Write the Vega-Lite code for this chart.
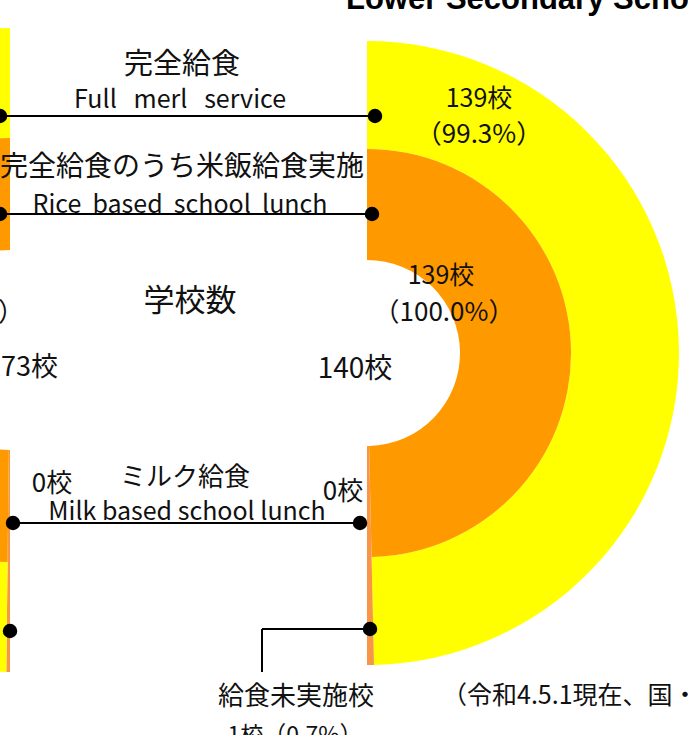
{
  "$schema": "https://vega.github.io/schema/vega-lite/v6.json",
  "width": 688,
  "height": 735,
  "autosize": "none",
  "padding": 0,
  "background": "white",
  "config": {
    "view": {"stroke": null},
    "axis": {"disable": true},
    "text": {"font": "Noto Sans CJK JP", "color": "#111111", "baseline": "middle", "align": "center"}
  },
  "datasets": {
    "rings": [
      {"school": "中学校", "ring": "outer", "category": "完全給食", "count": 139, "order": 1},
      {"school": "中学校", "ring": "outer", "category": "給食未実施", "count": 1, "order": 2},
      {"school": "中学校", "ring": "inner", "category": "米飯給食", "count": 139, "order": 1},
      {"school": "中学校", "ring": "inner", "category": "給食未実施", "count": 1, "order": 2},
      {"school": "小学校", "ring": "outer", "category": "給食未実施", "count": 1, "order": 1},
      {"school": "小学校", "ring": "outer", "category": "完全給食", "count": 272, "order": 2},
      {"school": "小学校", "ring": "inner", "category": "給食未実施", "count": 1, "order": 1},
      {"school": "小学校", "ring": "inner", "category": "米飯給食", "count": 272, "order": 2}
    ],
    "labels": [
      {"id": "title", "text": "Lower Secondary School"},
      {"id": "full_jp", "text": "完全給食"},
      {"id": "full_en", "text": "Full\u00a0\u00a0\u00a0merl\u00a0\u00a0\u00a0service"},
      {"id": "rice_jp", "text": "完全給食のうち米飯給食実施"},
      {"id": "rice_en", "text": "Rice\u00a0\u00a0based\u00a0\u00a0school\u00a0\u00a0lunch"},
      {"id": "count_jp", "text": "学校数"},
      {"id": "left_pct", "text": "（100.0%）"},
      {"id": "left_total", "text": "273校"},
      {"id": "inner_n", "text": "139校"},
      {"id": "inner_pct", "text": "（100.0%）"},
      {"id": "total", "text": "140校"},
      {"id": "outer_n", "text": "139校"},
      {"id": "outer_pct", "text": "（99.3%）"},
      {"id": "milk_jp", "text": "ミルク給食"},
      {"id": "milk_left", "text": "0校"},
      {"id": "milk_right", "text": "0校"},
      {"id": "milk_en", "text": "Milk based school lunch"},
      {"id": "none_jp", "text": "給食未実施校"},
      {"id": "none_n", "text": "1校（0.7%）"},
      {"id": "note", "text": "（令和4.5.1現在、国・公・私立）"}
    ],
    "leaders": [
      {"leader": "完全給食"},
      {"leader": "米飯給食"},
      {"leader": "ミルク給食"},
      {"leader": "給食未実施"}
    ]
  },
  "resolve": {"scale": {"theta": "independent"}},
  "layer": [
    {
      "data": {"name": "rings"},
      "transform": [
        {"filter": "datum.school === '中学校' && datum.ring === 'outer'"},
        {"stack": "count", "groupby": ["school", "ring"], "sort": [{"field": "order", "order": "ascending"}], "as": ["t0", "t1"]}
      ],
      "mark": {"type": "arc", "radius": 312, "radius2": 204, "clip": true},
      "encoding": {
        "x": {"datum": 367, "type": "quantitative", "scale": {"domain": [0, 688], "nice": false, "zero": false}, "axis": null},
        "y": {"datum": 353, "type": "quantitative", "scale": {"domain": [0, 735], "nice": false, "zero": false, "reverse": true}, "axis": null},
        "theta": {"field": "t0", "type": "quantitative", "scale": {"domain": [0, 140], "range": [0, 3.14159265]}},
        "theta2": {"field": "t1"},
        "color": {"field": "category", "type": "nominal", "legend": null, "scale": {"domain": ["完全給食", "米飯給食", "給食未実施"], "range": ["#FFFF00", "#FF9900", "#F79646"]}}
      }
    },
    {
      "data": {"name": "rings"},
      "transform": [
        {"filter": "datum.school === '中学校' && datum.ring === 'inner'"},
        {"stack": "count", "groupby": ["school", "ring"], "sort": [{"field": "order", "order": "ascending"}], "as": ["t0", "t1"]}
      ],
      "mark": {"type": "arc", "radius": 204, "radius2": 93, "clip": true},
      "encoding": {
        "x": {"datum": 367, "type": "quantitative"},
        "y": {"datum": 353, "type": "quantitative"},
        "theta": {"field": "t0", "type": "quantitative", "scale": {"domain": [0, 140], "range": [0, 3.14159265]}},
        "theta2": {"field": "t1"},
        "color": {"field": "category", "type": "nominal", "legend": null}
      }
    },
    {
      "data": {"name": "rings"},
      "transform": [
        {"filter": "datum.school === '小学校' && datum.ring === 'outer'"},
        {"stack": "count", "groupby": ["school", "ring"], "sort": [{"field": "order", "order": "ascending"}], "as": ["t0", "t1"]}
      ],
      "mark": {"type": "arc", "radius": 322, "radius2": 212, "clip": true},
      "encoding": {
        "x": {"datum": 10, "type": "quantitative"},
        "y": {"datum": 350, "type": "quantitative"},
        "theta": {"field": "t0", "type": "quantitative", "scale": {"domain": [0, 273], "range": [3.14159265, 6.2831853]}},
        "theta2": {"field": "t1"},
        "color": {"field": "category", "type": "nominal", "legend": null}
      }
    },
    {
      "data": {"name": "rings"},
      "transform": [
        {"filter": "datum.school === '小学校' && datum.ring === 'inner'"},
        {"stack": "count", "groupby": ["school", "ring"], "sort": [{"field": "order", "order": "ascending"}], "as": ["t0", "t1"]}
      ],
      "mark": {"type": "arc", "radius": 212, "radius2": 100, "clip": true},
      "encoding": {
        "x": {"datum": 10, "type": "quantitative"},
        "y": {"datum": 350, "type": "quantitative"},
        "theta": {"field": "t0", "type": "quantitative", "scale": {"domain": [0, 273], "range": [3.14159265, 6.2831853]}},
        "theta2": {"field": "t1"},
        "color": {"field": "category", "type": "nominal", "legend": null}
      }
    },
    {
      "data": {"name": "leaders"},
      "transform": [{"filter": "datum.leader === '完全給食'"}],
      "mark": {"type": "rule", "color": "#000000", "strokeWidth": 2, "clip": true},
      "encoding": {"x": {"datum": -20, "type": "quantitative"}, "x2": {"datum": 375}, "y": {"datum": 116, "type": "quantitative"}}
    },
    {
      "data": {"name": "leaders"},
      "transform": [{"filter": "datum.leader === '米飯給食'"}],
      "mark": {"type": "rule", "color": "#000000", "strokeWidth": 2, "clip": true},
      "encoding": {"x": {"datum": -20, "type": "quantitative"}, "x2": {"datum": 372}, "y": {"datum": 214, "type": "quantitative"}}
    },
    {
      "data": {"name": "leaders"},
      "transform": [{"filter": "datum.leader === 'ミルク給食'"}],
      "mark": {"type": "rule", "color": "#000000", "strokeWidth": 2, "clip": true},
      "encoding": {"x": {"datum": 13, "type": "quantitative"}, "x2": {"datum": 360}, "y": {"datum": 523, "type": "quantitative"}}
    },
    {
      "data": {"name": "leaders"},
      "transform": [{"filter": "datum.leader === '給食未実施'"}],
      "mark": {"type": "rule", "color": "#000000", "strokeWidth": 2, "clip": true},
      "encoding": {"x": {"datum": 262, "type": "quantitative"}, "x2": {"datum": 370}, "y": {"datum": 629, "type": "quantitative"}}
    },
    {
      "data": {"name": "leaders"},
      "transform": [{"filter": "datum.leader === '給食未実施'"}],
      "mark": {"type": "rule", "color": "#000000", "strokeWidth": 2, "clip": true},
      "encoding": {"x": {"datum": 262, "type": "quantitative"}, "y": {"datum": 629, "type": "quantitative"}, "y2": {"datum": 672}}
    },
    {
      "data": {"name": "leaders"},
      "transform": [{"filter": "datum.leader === '完全給食'"}],
      "mark": {"type": "point", "filled": true, "color": "#000000", "opacity": 1, "size": 210, "clip": true},
      "encoding": {"x": {"datum": 375, "type": "quantitative"}, "y": {"datum": 116, "type": "quantitative"}}
    },
    {
      "data": {"name": "leaders"},
      "transform": [{"filter": "datum.leader === '完全給食'"}],
      "mark": {"type": "point", "filled": true, "color": "#000000", "opacity": 1, "size": 210, "clip": true},
      "encoding": {"x": {"datum": 0, "type": "quantitative"}, "y": {"datum": 116, "type": "quantitative"}}
    },
    {
      "data": {"name": "leaders"},
      "transform": [{"filter": "datum.leader === '米飯給食'"}],
      "mark": {"type": "point", "filled": true, "color": "#000000", "opacity": 1, "size": 210, "clip": true},
      "encoding": {"x": {"datum": 372, "type": "quantitative"}, "y": {"datum": 214, "type": "quantitative"}}
    },
    {
      "data": {"name": "leaders"},
      "transform": [{"filter": "datum.leader === '米飯給食'"}],
      "mark": {"type": "point", "filled": true, "color": "#000000", "opacity": 1, "size": 210, "clip": true},
      "encoding": {"x": {"datum": 0, "type": "quantitative"}, "y": {"datum": 214, "type": "quantitative"}}
    },
    {
      "data": {"name": "leaders"},
      "transform": [{"filter": "datum.leader === 'ミルク給食'"}],
      "mark": {"type": "point", "filled": true, "color": "#000000", "opacity": 1, "size": 210, "clip": true},
      "encoding": {"x": {"datum": 13, "type": "quantitative"}, "y": {"datum": 523, "type": "quantitative"}}
    },
    {
      "data": {"name": "leaders"},
      "transform": [{"filter": "datum.leader === 'ミルク給食'"}],
      "mark": {"type": "point", "filled": true, "color": "#000000", "opacity": 1, "size": 210, "clip": true},
      "encoding": {"x": {"datum": 360, "type": "quantitative"}, "y": {"datum": 523, "type": "quantitative"}}
    },
    {
      "data": {"name": "leaders"},
      "transform": [{"filter": "datum.leader === '給食未実施'"}],
      "mark": {"type": "point", "filled": true, "color": "#000000", "opacity": 1, "size": 210, "clip": true},
      "encoding": {"x": {"datum": 370, "type": "quantitative"}, "y": {"datum": 629, "type": "quantitative"}}
    },
    {
      "data": {"name": "leaders"},
      "transform": [{"filter": "datum.leader === '給食未実施'"}],
      "mark": {"type": "point", "filled": true, "color": "#000000", "opacity": 1, "size": 210, "clip": true},
      "encoding": {"x": {"datum": 10, "type": "quantitative"}, "y": {"datum": 631, "type": "quantitative"}}
    },
    {
      "data": {"name": "labels"},
      "transform": [{"filter": "datum.id === 'title'"}],
      "mark": {"type": "text", "font": "Liberation Sans", "fontWeight": "bold", "fontSize": 31, "align": "left", "baseline": "alphabetic", "color": "#000000", "clip": true},
      "encoding": {"x": {"datum": 346, "type": "quantitative"}, "y": {"datum": 9, "type": "quantitative"}, "text": {"field": "text"}}
    },
    {
      "data": {"name": "labels"},
      "transform": [{"filter": "datum.id === 'full_jp'"}],
      "mark": {"type": "text", "fontSize": 29, "clip": true},
      "encoding": {"x": {"datum": 182, "type": "quantitative"}, "y": {"datum": 65, "type": "quantitative"}, "text": {"field": "text"}}
    },
    {
      "data": {"name": "labels"},
      "transform": [{"filter": "datum.id === 'full_en'"}],
      "mark": {"type": "text", "fontSize": 25, "clip": true},
      "encoding": {"x": {"datum": 180, "type": "quantitative"}, "y": {"datum": 100, "type": "quantitative"}, "text": {"field": "text"}}
    },
    {
      "data": {"name": "labels"},
      "transform": [{"filter": "datum.id === 'rice_jp'"}],
      "mark": {"type": "text", "fontSize": 28, "clip": true},
      "encoding": {"x": {"datum": 182, "type": "quantitative"}, "y": {"datum": 168, "type": "quantitative"}, "text": {"field": "text"}}
    },
    {
      "data": {"name": "labels"},
      "transform": [{"filter": "datum.id === 'rice_en'"}],
      "mark": {"type": "text", "fontSize": 25, "clip": true},
      "encoding": {"x": {"datum": 180, "type": "quantitative"}, "y": {"datum": 205, "type": "quantitative"}, "text": {"field": "text"}}
    },
    {
      "data": {"name": "labels"},
      "transform": [{"filter": "datum.id === 'count_jp'"}],
      "mark": {"type": "text", "fontSize": 31, "clip": true},
      "encoding": {"x": {"datum": 190, "type": "quantitative"}, "y": {"datum": 302, "type": "quantitative"}, "text": {"field": "text"}}
    },
    {
      "data": {"name": "labels"},
      "transform": [{"filter": "datum.id === 'left_pct'"}],
      "mark": {"type": "text", "fontSize": 26, "align": "right", "clip": true},
      "encoding": {"x": {"datum": 24, "type": "quantitative"}, "y": {"datum": 313, "type": "quantitative"}, "text": {"field": "text"}}
    },
    {
      "data": {"name": "labels"},
      "transform": [{"filter": "datum.id === 'left_total'"}],
      "mark": {"type": "text", "fontSize": 27, "align": "right", "clip": true},
      "encoding": {"x": {"datum": 58, "type": "quantitative"}, "y": {"datum": 368, "type": "quantitative"}, "text": {"field": "text"}}
    },
    {
      "data": {"name": "labels"},
      "transform": [{"filter": "datum.id === 'inner_n'"}],
      "mark": {"type": "text", "fontSize": 25, "clip": true},
      "encoding": {"x": {"datum": 441, "type": "quantitative"}, "y": {"datum": 276, "type": "quantitative"}, "text": {"field": "text"}}
    },
    {
      "data": {"name": "labels"},
      "transform": [{"filter": "datum.id === 'inner_pct'"}],
      "mark": {"type": "text", "fontSize": 26, "clip": true},
      "encoding": {"x": {"datum": 444, "type": "quantitative"}, "y": {"datum": 313, "type": "quantitative"}, "text": {"field": "text"}}
    },
    {
      "data": {"name": "labels"},
      "transform": [{"filter": "datum.id === 'total'"}],
      "mark": {"type": "text", "fontSize": 28, "clip": true},
      "encoding": {"x": {"datum": 355, "type": "quantitative"}, "y": {"datum": 370, "type": "quantitative"}, "text": {"field": "text"}}
    },
    {
      "data": {"name": "labels"},
      "transform": [{"filter": "datum.id === 'outer_n'"}],
      "mark": {"type": "text", "fontSize": 25, "clip": true},
      "encoding": {"x": {"datum": 479, "type": "quantitative"}, "y": {"datum": 99, "type": "quantitative"}, "text": {"field": "text"}}
    },
    {
      "data": {"name": "labels"},
      "transform": [{"filter": "datum.id === 'outer_pct'"}],
      "mark": {"type": "text", "fontSize": 26, "clip": true},
      "encoding": {"x": {"datum": 479, "type": "quantitative"}, "y": {"datum": 135, "type": "quantitative"}, "text": {"field": "text"}}
    },
    {
      "data": {"name": "labels"},
      "transform": [{"filter": "datum.id === 'milk_jp'"}],
      "mark": {"type": "text", "fontSize": 26, "clip": true},
      "encoding": {"x": {"datum": 185, "type": "quantitative"}, "y": {"datum": 478, "type": "quantitative"}, "text": {"field": "text"}}
    },
    {
      "data": {"name": "labels"},
      "transform": [{"filter": "datum.id === 'milk_left'"}],
      "mark": {"type": "text", "fontSize": 26, "clip": true},
      "encoding": {"x": {"datum": 52, "type": "quantitative"}, "y": {"datum": 484, "type": "quantitative"}, "text": {"field": "text"}}
    },
    {
      "data": {"name": "labels"},
      "transform": [{"filter": "datum.id === 'milk_right'"}],
      "mark": {"type": "text", "fontSize": 26, "clip": true},
      "encoding": {"x": {"datum": 343, "type": "quantitative"}, "y": {"datum": 492, "type": "quantitative"}, "text": {"field": "text"}}
    },
    {
      "data": {"name": "labels"},
      "transform": [{"filter": "datum.id === 'milk_en'"}],
      "mark": {"type": "text", "fontSize": 25, "clip": true},
      "encoding": {"x": {"datum": 187, "type": "quantitative"}, "y": {"datum": 512, "type": "quantitative"}, "text": {"field": "text"}}
    },
    {
      "data": {"name": "labels"},
      "transform": [{"filter": "datum.id === 'none_jp'"}],
      "mark": {"type": "text", "fontSize": 26, "clip": true},
      "encoding": {"x": {"datum": 296, "type": "quantitative"}, "y": {"datum": 697, "type": "quantitative"}, "text": {"field": "text"}}
    },
    {
      "data": {"name": "labels"},
      "transform": [{"filter": "datum.id === 'none_n'"}],
      "mark": {"type": "text", "fontSize": 23, "clip": true},
      "encoding": {"x": {"datum": 295, "type": "quantitative"}, "y": {"datum": 736, "type": "quantitative"}, "text": {"field": "text"}}
    },
    {
      "data": {"name": "labels"},
      "transform": [{"filter": "datum.id === 'note'"}],
      "mark": {"type": "text", "fontSize": 25, "align": "left", "clip": true},
      "encoding": {"x": {"datum": 442, "type": "quantitative"}, "y": {"datum": 696, "type": "quantitative"}, "text": {"field": "text"}}
    }
  ]
}
